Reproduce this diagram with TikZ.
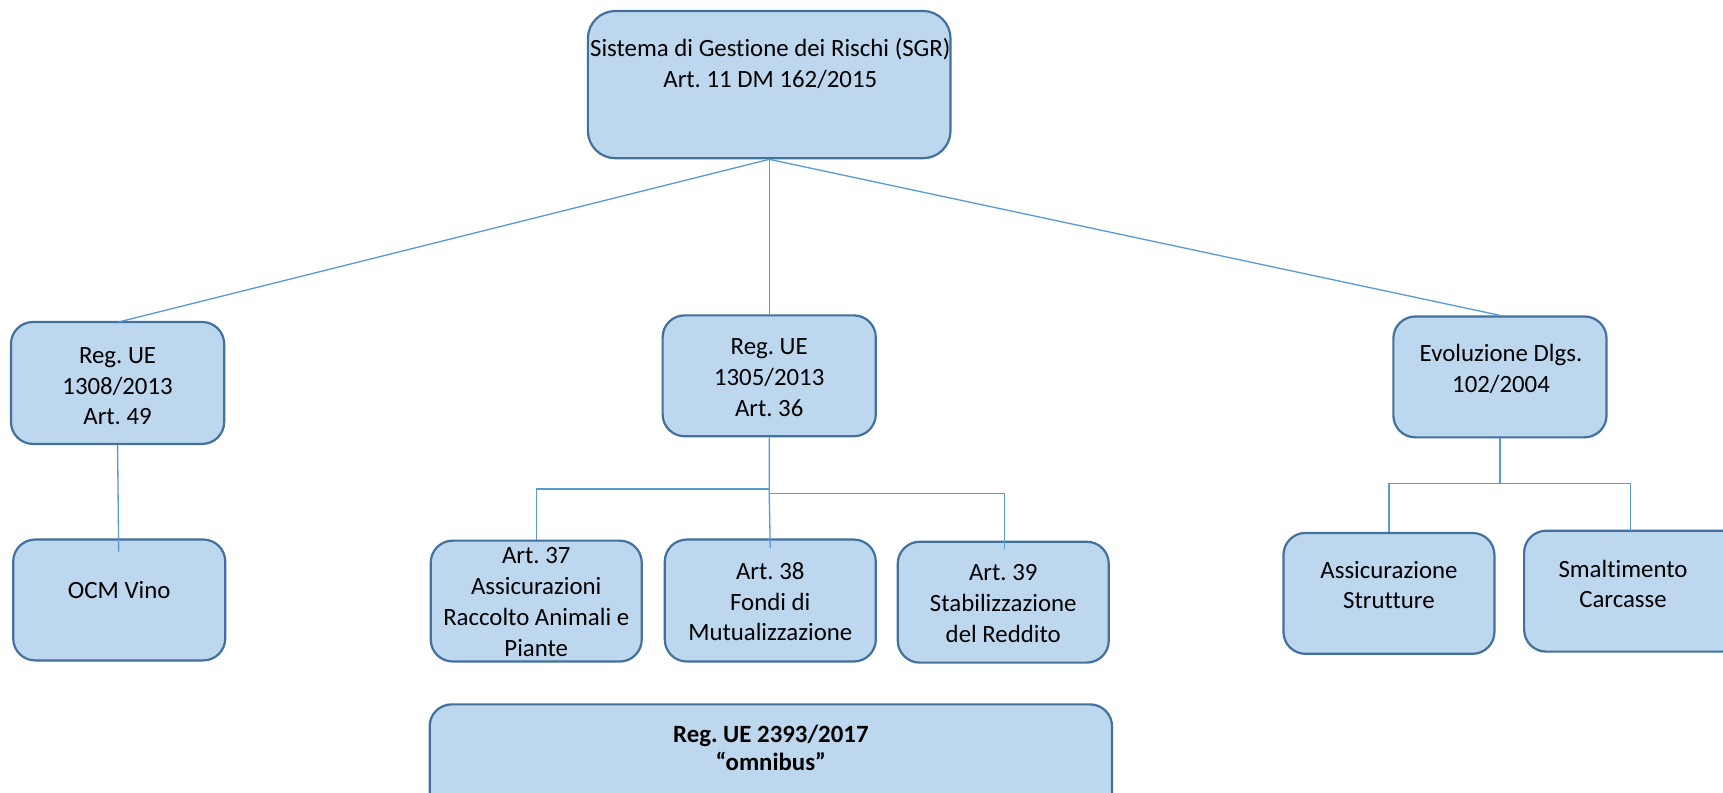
\documentclass[tikz,border=0pt]{standalone}
\usepackage{fontspec}
\setmainfont{Carlito}[Ligatures={NoCommon}]
\frenchspacing
\definecolor{boxfill}{HTML}{BDD7EE}
\definecolor{boxline}{HTML}{41719C}
\definecolor{conn}{HTML}{5B9BD5}
\tikzset{
  box/.style={draw=boxline, fill=boxfill, line width=2pt, rounded corners=20pt, inner sep=0pt},
  txt/.style={align=center, inner sep=0pt, font=\fontsize{22.6}{28}\selectfont, text=black},
  btxt/.style={txt, font=\fontsize{22.6}{26}\selectfont\bfseries},
  link/.style={draw=conn, line width=1.2pt}
}
\begin{document}
\begin{tikzpicture}[x=1pt,y=1pt]
\useasboundingbox (0,0) rectangle (1568,-721);
\clip (0,0) rectangle (1568,-721);
\fill[white] (0,0) rectangle (1568,-721);
% boxes
\node[box, rounded corners=25pt, minimum width=330, minimum height=134] (sgr) at (700,-77) {};
\node[box, minimum width=194, minimum height=111] (r1308) at (107,-348.5) {};
\node[box, minimum width=194, minimum height=110] (r1305) at (700,-342) {};
\node[box, minimum width=194, minimum height=110] (evo) at (1365,-343) {};
\node[box, minimum width=193, minimum height=110] (ocm) at (108.5,-546) {};
\node[box, minimum width=192, minimum height=110] (a37) at (488,-547) {};
\node[box, minimum width=192, minimum height=111] (a38) at (701,-546.5) {};
\node[box, minimum width=192, minimum height=110] (a39) at (913,-548) {};
\node[box, minimum width=192, minimum height=110] (ass) at (1264,-540) {};
\node[box, minimum width=200, minimum height=110] (sma) at (1487,-538) {};
\node[box, minimum width=621, minimum height=110] (omni) at (701.5,-696) {};
% texts
\node[txt] (sgrT) at (701,-58) {Sistema di Gestione dei Rischi (SGR)\\Art. 11 DM 162/2015};
\node[txt] (r1308T) at (107,-351.5) {Reg. UE\\1308/2013\\Art. 49};
\node[txt] (r1305T) at (700,-343.5) {Reg. UE\\1305/2013\\Art. 36};
\node[txt] (evoT) at (1366,-336) {Evoluzione Dlgs.\\102/2004};
\node[txt] (ocmT) at (108.5,-537) {OCM Vino};
\node[txt] (a37T) at (488,-548) {Art. 37\\Assicurazioni\\Raccolto Animali e\\Piante};
\node[txt] (a38T) at (701,-547.5) {Art. 38\\Fondi di\\Mutualizzazione};
\node[txt] (a39T) at (913,-549) {Art. 39\\Stabilizzazione\\del Reddito};
\node[txt] (assT) at (1264,-532.5) {Assicurazione\\Strutture};
\node[txt] (smaT) at (1477,-531.5) {Smaltimento\\Carcasse};
\node[btxt] (omniT) at (701.5,-680.5) {Reg. UE 2393/2017\\“omnibus”};
% connector points
\coordinate (top) at (sgr.south);
\coordinate (p1308) at (108,-293);
\coordinate (p1305) at (r1305.north);
\coordinate (pevo) at (evo.north);
\coordinate (ocmIn) at (108,-502);
\coordinate (jl) at (700,-445);
\coordinate (jr) at (700,-449);
\coordinate (a38In) at (701,-499);
\coordinate (a39In) at (914,-500);
\coordinate (ej) at (1365,-440);
\coordinate (smaTop) at (1484,-483);
% connectors
\draw[link] (top) -- (p1308);
\draw[link] (top) -- (p1305);
\draw[link] (top) -- (pevo);
\draw[link] (r1308.south) -- (ocmIn);
\draw[link] (r1305.south) -- (jr) -- (a38In);
\draw[link] (jl) -| (a37.north);
\draw[link] (jr) -| (a39In);
\draw[link] (evo.south) -- (ej);
\draw[link] (ej) -| (ass.north);
\draw[link] (ej) -| (smaTop);
\end{tikzpicture}
\end{document}
